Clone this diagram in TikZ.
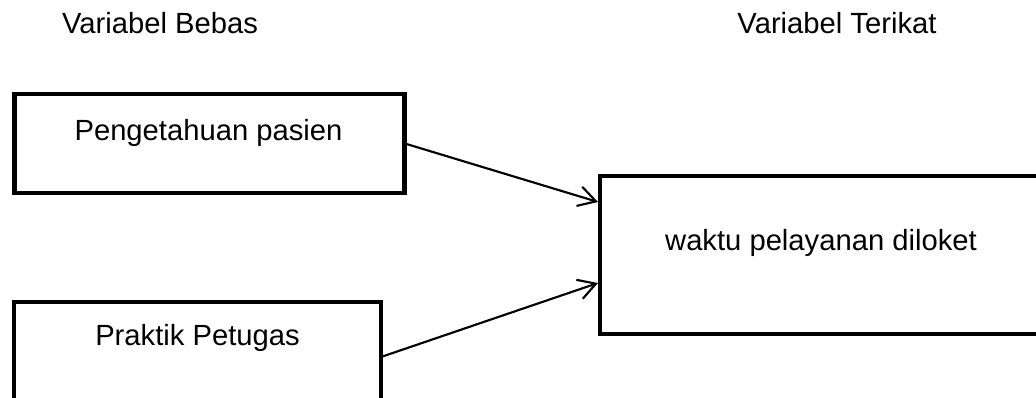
\documentclass[tikz,border=0pt]{standalone}
\usepackage{fontspec}
\setmainfont{Liberation Sans}
\usetikzlibrary{arrows.meta}
\begin{document}
\begin{tikzpicture}[x=0.75pt,y=-0.75pt,
  box/.style={draw, line width=3.6pt, inner sep=0pt, outer sep=0pt},
  lbl/.style={anchor=base, inner sep=0pt, font=\fontsize{21.9pt}{26pt}\selectfont},
  conn/.style={line width=1.6pt, -{Straight Barb[length=13pt,width=15pt]}}]
  \useasboundingbox (0,0) rectangle (1036,398);
  \clip (0,0) rectangle (1036,398);
  \fill[white] (0,0) rectangle (1036,398);

  % column headings
  \node[lbl] (hbebas) at (160,34) {Variabel Bebas};
  \node[lbl] (hterikat) at (837,34) {Variabel Terikat};

  % independent variables
  \node[box, minimum width=293pt, minimum height=74.25pt] (pengetahuan) at (209.5,143.5) {};
  \node[lbl] (tpengetahuan) at (208.5,141) {Pengetahuan pasien};

  \node[box, minimum width=275.25pt, minimum height=82.5pt] (praktik) at (197.5,357) {};
  \node[lbl] (tpraktik) at (197.5,346) {Praktik Petugas};

  % dependent variable
  \node[box, minimum width=345pt, minimum height=118.5pt] (waktu) at (830,255) {};
  \node[lbl] (twaktu) at (821,251) {waktu pelayanan diloket};

  % arrow targets on the left side of the dependent box
  \coordinate (in1) at (598,202);
  \coordinate (in2) at (598,283);

  \draw[conn] (pengetahuan.east) -- (in1);
  \draw[conn] (praktik.east) -- (in2);
\end{tikzpicture}
\end{document}
